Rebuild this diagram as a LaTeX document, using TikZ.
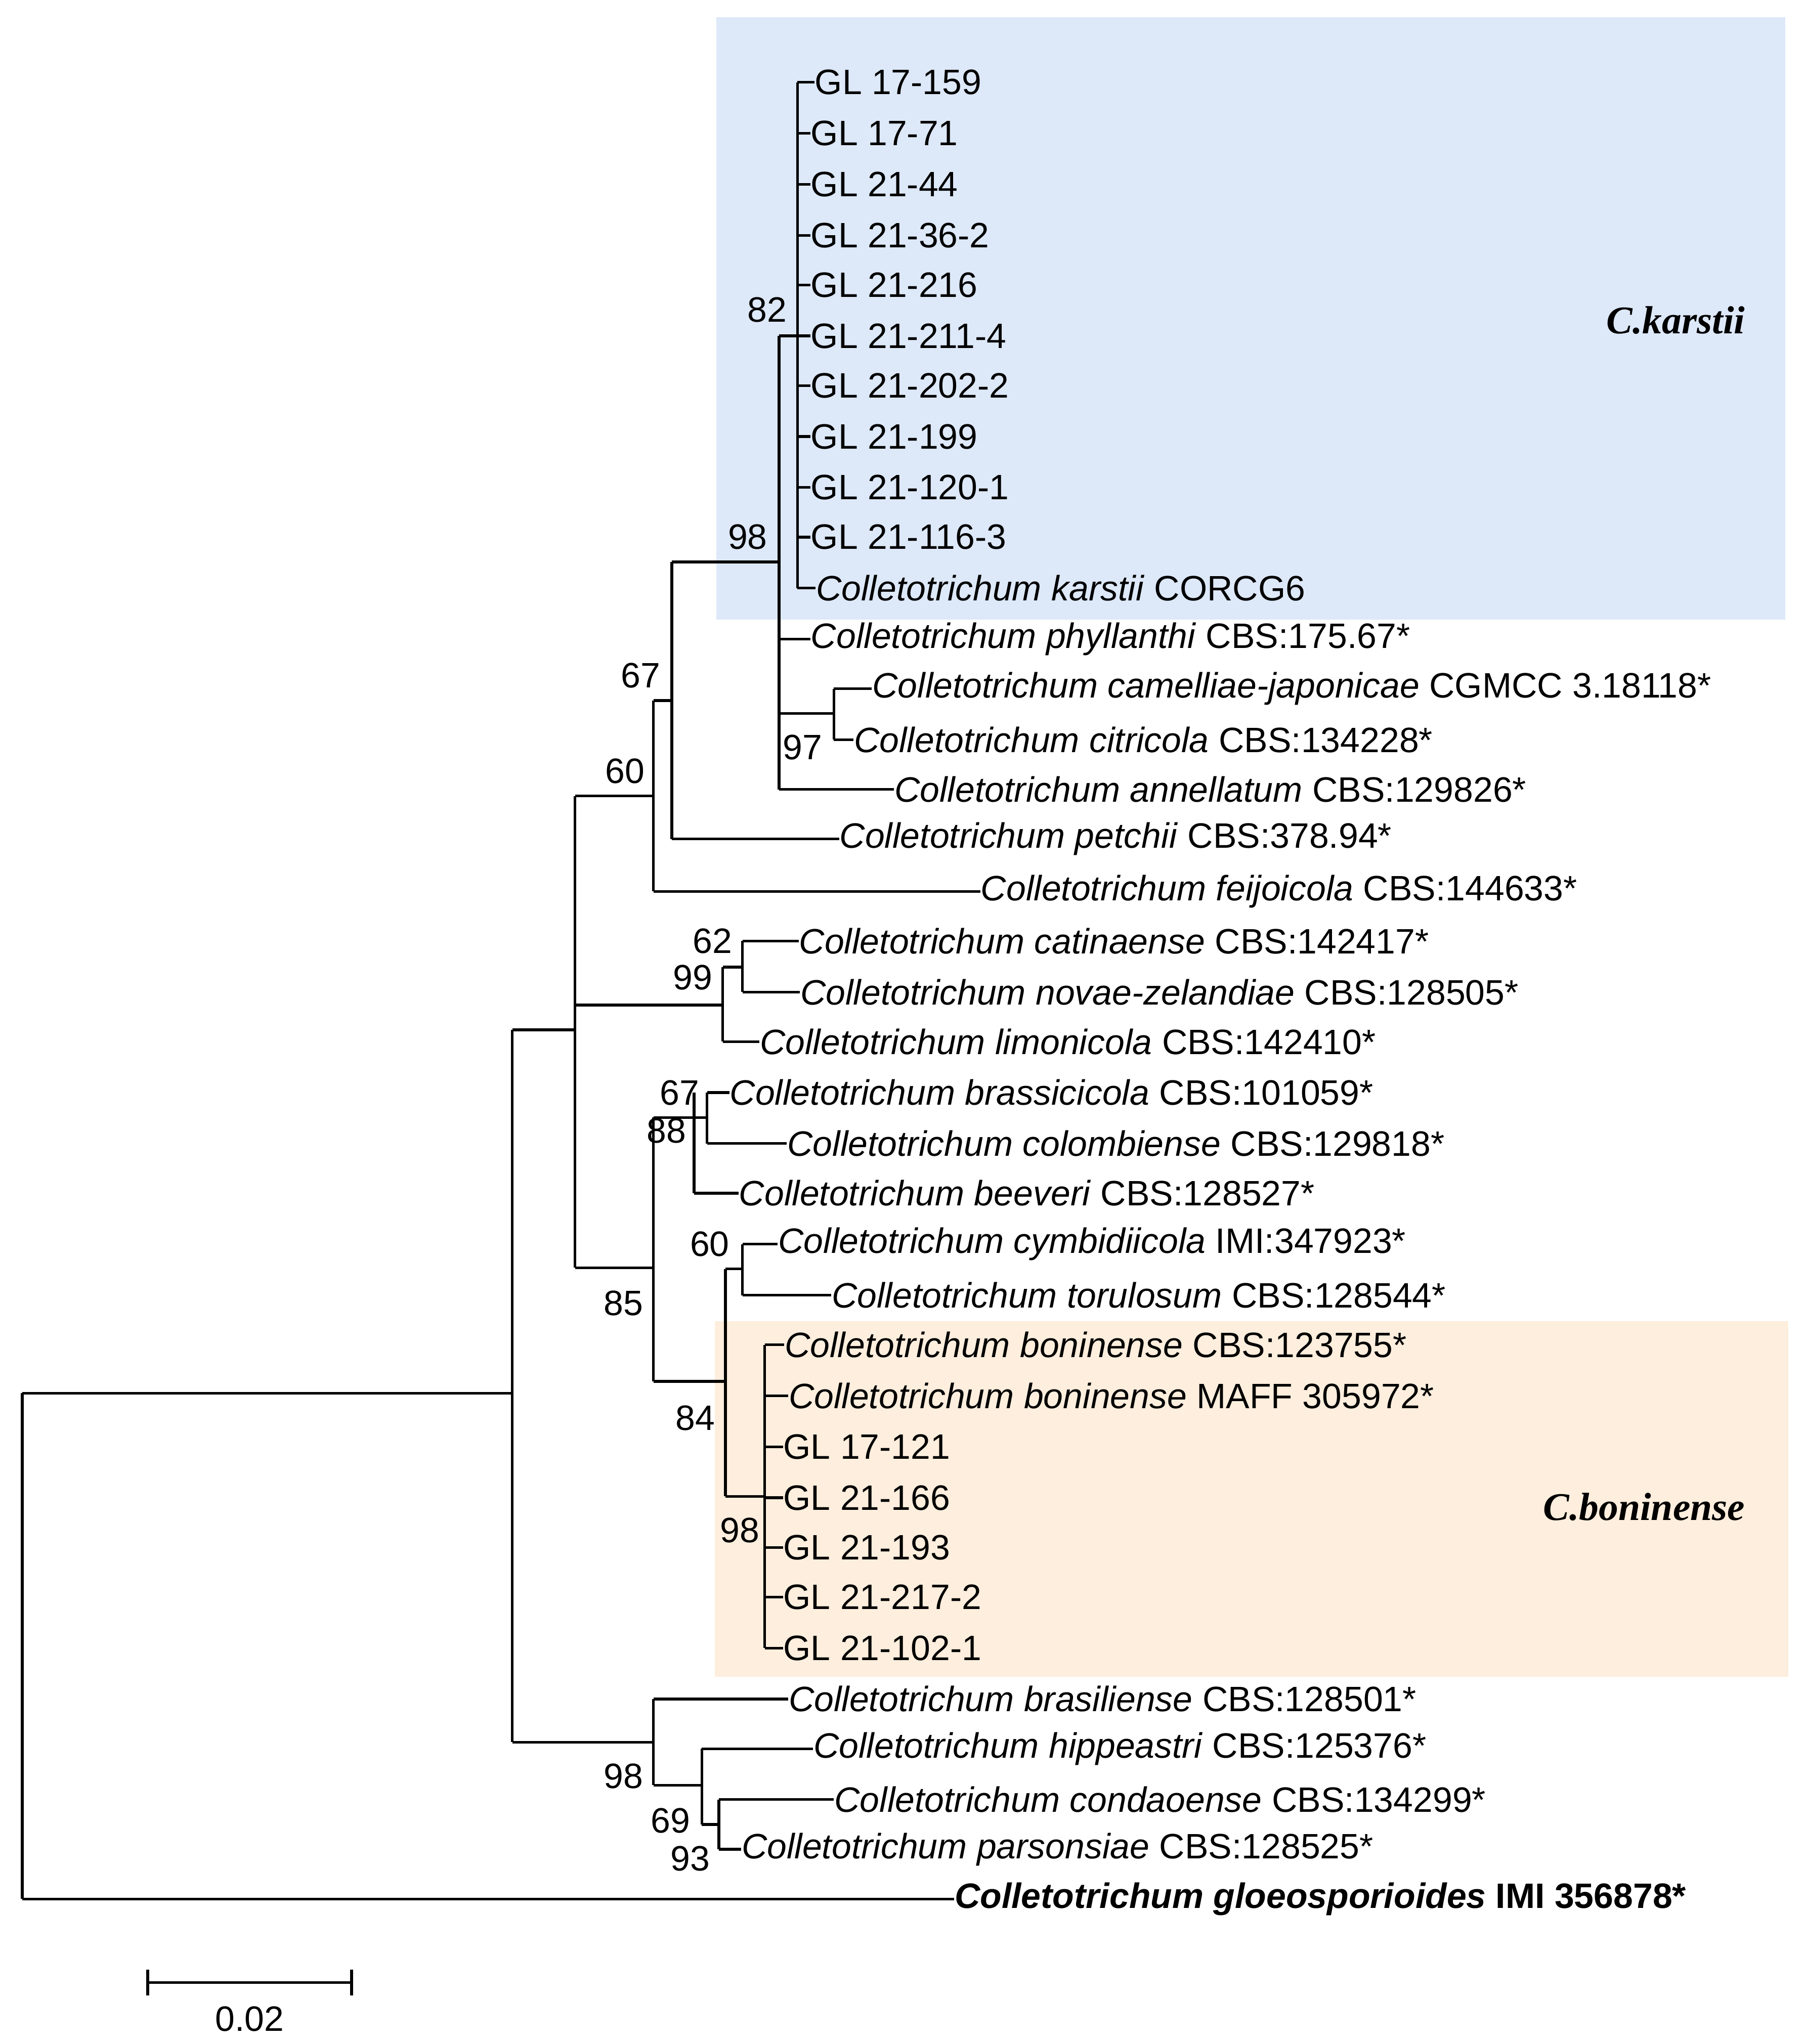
\documentclass[tikz,border=0pt]{standalone}
\usepackage{fontspec}
\setmainfont{Liberation Sans}
\newfontfamily\serifb{Liberation Serif}
\begin{document}
\begin{tikzpicture}[x=0.5pt,y=-0.5pt,
  br/.style={line width=1pt},
  lab/.style={anchor=west,inner sep=0pt,font=\fontsize{13.5}{15}\selectfont},
  bs/.style={inner sep=0pt,font=\fontsize{13.5}{15}\selectfont}]
\useasboundingbox (0,0) rectangle (1380,1564);
\fill[fill={rgb,255:red,221;green,232;blue,248}] (548,13) rectangle (1366,474);
\fill[fill={rgb,255:red,253;green,238;blue,221}] (547,1011) rectangle (1368,1283);
\node[font=\serifb\fontsize{15}{17}\selectfont\bfseries\itshape,anchor=east] (k) at (1342,245) {C.karstii};
\node[font=\serifb\fontsize{15}{17}\selectfont\bfseries\itshape,anchor=east] (b) at (1342,1153) {C.boninense};
% internal nodes
\coordinate (r) at (17,1066);
\coordinate (a) at (392,788);
\coordinate (c) at (440,609);
\coordinate (d) at (500,536);
\coordinate (e) at (514,430);
\coordinate (f) at (596,257);
\coordinate (g) at (610,63);
\coordinate (h) at (638,546);
\coordinate (m) at (553,740);
\coordinate (n) at (568,720);
\coordinate (p) at (500,855);
\coordinate (q) at (531,836);
\coordinate (s) at (541,836);
\coordinate (t) at (555,971);
\coordinate (u) at (568,952);
\coordinate (v) at (585,1029);
\coordinate (w) at (500,1300);
\coordinate (x) at (537,1338);
\coordinate (z) at (550,1377);
% verticals and connecting horizontals
\draw[br] (17,1066) -- (17,1453);
\draw[br] (17,1066) -- (392,1066);
\draw[br] (392,788) -- (392,1333);
\draw[br] (392,788) -- (440,788);
\draw[br] (392,1333) -- (500,1333);
\draw[br] (440,609) -- (440,970);
\draw[br] (440,609) -- (500,609);
\draw[br] (440,769) -- (553,769);
\draw[br] (440,970) -- (500,970);
\draw[br] (500,536) -- (500,682);
\draw[br] (500,536) -- (514,536);
\draw[br] (514,430) -- (514,642);
\draw[br] (514,430) -- (596,430);
\draw[br] (596,257) -- (596,604);
\draw[br] (596,257) -- (610,257);
\draw[br] (610,63) -- (610,450);
\draw[br] (596,546) -- (638,546);
\draw[br] (638,527) -- (638,566);
\draw[br] (553,740) -- (553,797);
\draw[br] (553,740) -- (568,740);
\draw[br] (568,720) -- (568,759);
\draw[br] (500,855) -- (500,1057);
\draw[br] (500,855) -- (531,855);
\draw[br] (500,1057) -- (555,1057);
\draw[br] (531,836) -- (531,913);
\draw[br] (531,855) -- (541,855);
\draw[br] (541,836) -- (541,875);
\draw[br] (555,971) -- (555,1145);
\draw[br] (555,971) -- (568,971);
\draw[br] (555,1145) -- (585,1145);
\draw[br] (568,952) -- (568,991);
\draw[br] (585,1029) -- (585,1261);
\draw[br] (500,1300) -- (500,1366);
\draw[br] (500,1366) -- (537,1366);
\draw[br] (537,1338) -- (537,1396);
\draw[br] (537,1396) -- (550,1396);
\draw[br] (550,1377) -- (550,1415);
% leaves
\newcommand{\lf}[5]{\node[lab] (#1) at (#3,#4) {#5}; \draw[br] (#2,#4) -- (#1.west);}
\lf{l1}{610}{623}{63}{GL 17-159}
\lf{l2}{610}{620}{102}{GL 17-71}
\lf{l3}{610}{620}{141}{GL 21-44}
\lf{l4}{610}{620}{180}{GL 21-36-2}
\lf{l5}{610}{620}{218}{GL 21-216}
\lf{l6}{610}{620}{257}{GL 21-211-4}
\lf{l7}{610}{620}{295}{GL 21-202-2}
\lf{l8}{610}{620}{334}{GL 21-199}
\lf{l9}{610}{620}{373}{GL 21-120-1}
\lf{l10}{610}{620}{411}{GL 21-116-3}
\lf{l11}{610}{624}{450}{\textit{Colletotrichum karstii} CORCG6}
\lf{l12}{596}{620}{489}{\textit{Colletotrichum phyllanthi} CBS:175.67*}
\lf{l13}{638}{667}{527}{\textit{Colletotrichum camelliae-japonicae} CGMCC 3.18118*}
\lf{l14}{638}{653}{566}{\textit{Colletotrichum citricola} CBS:134228*}
\lf{l15}{596}{684}{604}{\textit{Colletotrichum annellatum} CBS:129826*}
\lf{l16}{514}{642}{642}{\textit{Colletotrichum petchii} CBS:378.94*}
\lf{l17}{500}{750}{682}{\textit{Colletotrichum feijoicola} CBS:144633*}
\lf{l18}{568}{611}{720}{\textit{Colletotrichum catinaense} CBS:142417*}
\lf{l19}{568}{612}{759}{\textit{Colletotrichum novae-zelandiae} CBS:128505*}
\lf{l20}{553}{581}{797}{\textit{Colletotrichum limonicola} CBS:142410*}
\lf{l21}{541}{558}{836}{\textit{Colletotrichum brassicicola} CBS:101059*}
\lf{l22}{541}{602}{875}{\textit{Colletotrichum colombiense} CBS:129818*}
\lf{l23}{531}{565}{913}{\textit{Colletotrichum beeveri} CBS:128527*}
\lf{l24}{568}{595}{952}{\textit{Colletotrichum cymbidiicola} IMI:347923*}
\lf{l25}{568}{636}{991}{\textit{Colletotrichum torulosum} CBS:128544*}
\lf{l26}{585}{600}{1029}{\textit{Colletotrichum boninense} CBS:123755*}
\lf{l27}{585}{603}{1068}{\textit{Colletotrichum boninense} MAFF 305972*}
\lf{l28}{585}{599}{1107}{GL 17-121}
\lf{l29}{585}{599}{1146}{GL 21-166}
\lf{l30}{585}{599}{1184}{GL 21-193}
\lf{l31}{585}{599}{1222}{GL 21-217-2}
\lf{l32}{585}{599}{1261}{GL 21-102-1}
\lf{l33}{500}{603}{1300}{\textit{Colletotrichum brasiliense} CBS:128501*}
\lf{l34}{537}{622}{1338}{\textit{Colletotrichum hippeastri} CBS:125376*}
\lf{l35}{550}{638}{1377}{\textit{Colletotrichum condaoense} CBS:134299*}
\lf{l36}{550}{567}{1415}{\textit{Colletotrichum parsonsiae} CBS:128525*}
\lf{l37}{17}{730}{1453}{\textbf{\textit{Colletotrichum gloeosporioides} IMI 356878*}}
% bootstrap
\foreach \t/\xx/\yy [count=\i] in {82/587/237,98/572/411,67/490/517,97/614/572,60/478/590,62/545/720,99/530/748,67/520/836,88/510/865,60/543/952,85/477/997,84/532/1085,98/566/1171,98/477/1359,69/513/1393,93/528/1422}
  \node[bs] (bs\i) at (\xx,\yy) {\t};
% scale bar
\coordinate (s1) at (113,1517); \coordinate (s2) at (269,1517);
\draw[br] (s1) -- (s2);
\draw[br] (113,1507) -- (113,1527);
\draw[br] (269,1507) -- (269,1527);
\node[bs] (sc) at (191,1545) {0.02};
\end{tikzpicture}
\end{document}
